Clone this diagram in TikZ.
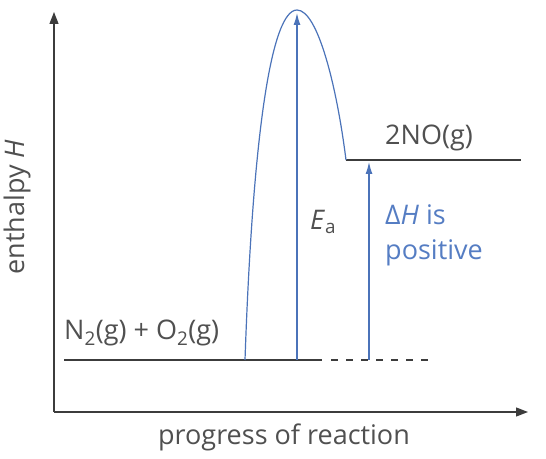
\documentclass[tikz,border=0pt]{standalone}
\usepackage{fontspec}
\setmainfont{Open Sans}
\usepackage{xcolor}
\usetikzlibrary{arrows.meta,positioning,calc}
\definecolor{ink}{RGB}{60,60,60}
\definecolor{textgrey}{RGB}{80,80,80}
\definecolor{curveblue}{RGB}{75,115,185}
\definecolor{labelblue}{RGB}{85,125,195}

\begin{document}
\begin{tikzpicture}[
  x=1pt, y=1pt,
  axis/.style={-{Triangle[length=12pt,width=9pt]}, line width=1.3pt, ink},
  level/.style={line width=1.6pt, ink},
  energy_arrow/.style={-{Latex[length=12pt,width=7pt]}, line width=1.2pt, curveblue},
  label/.style={font=\fontsize{27}{35}\selectfont, textgrey, inner sep=0pt}
]
\useasboundingbox (0,0) rectangle (546,458);

% Axes
\coordinate (origin) at (54,46);
\coordinate (ytop) at (54,446);
\coordinate (xend) at (528,46);
\draw[axis] (origin) -- (ytop);
\draw[axis] (origin) -- (xend);
\node[label, rotate=90] (ylab) at (17,251) {enthalpy \textit{H}};
\node[label] (xlab) at (284,21) {progress of reaction};

% Energy levels
\coordinate (react) at (64,98);
\coordinate (rise) at (245,98);
\coordinate (top) at (297,448);
\coordinate (ea) at (297,98);
\coordinate (solidend) at (322,98);
\coordinate (dashstart) at (331,98);
\coordinate (dashend) at (429,98);
\coordinate (prod) at (346,298);
\coordinate (prodend) at (521,298);
\coordinate (dh) at (369,98);
\draw[level] (react) -- (solidend);
\draw[level, dash pattern=on 7pt off 8pt] (dashstart) -- (dashend);
\draw[level] (prod) -- (prodend);

% Reaction profile
\draw[line width=1.2pt, curveblue] (rise) .. controls (253,330) and (272,448) .. (top)
  .. controls (318,448) and (337,370) .. (prod);

% Energy arrows
\draw[energy_arrow] (ea) -- ($(top)+(0,-3)$);
\draw[energy_arrow] (dh) -- ($(prod -| dh)+(0,-2)$);

% Labels
\node[label, anchor=base west] (rlab) at (64,118) {N\textsubscript{2}(g) + O\textsubscript{2}(g)};
\node[label, anchor=base west] (plab) at (385,313) {2NO(g)};
\node[label, anchor=base west] (ealab) at (310,228) {\textit{E}\textsubscript{\upshape a}};
\node[label, labelblue, anchor=base west, align=left] (dhlab) at (385,198) {Δ\textit{H} is\\positive};
\end{tikzpicture}
\end{document}
